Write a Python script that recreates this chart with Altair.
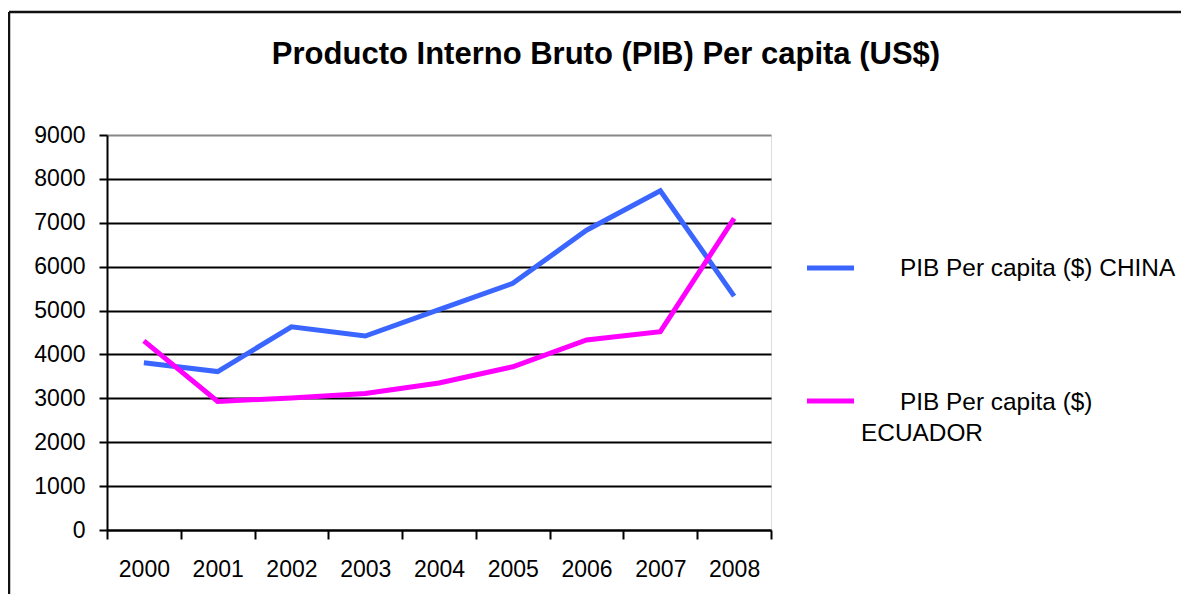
import altair as alt
import pandas as pd

# ---- data ----
years = ["2000", "2001", "2002", "2003", "2004", "2005", "2006", "2007", "2008"]
china = [3810, 3610, 4630, 4420, 5020, 5620, 6830, 7730, 5330]
ecuador = [4310, 2930, 3010, 3110, 3350, 3720, 4330, 4520, 7100]
series_names = ["PIB Per capita ($) CHINA", "PIB Per capita ($) ECUADOR"]
series_colors = ["#3A66FF", "#FF00FF"]
y_ticks = [0, 1000, 2000, 3000, 4000, 5000, 6000, 7000, 8000, 9000]
title_text = ["Producto Interno Bruto (PIB) Per capita (US$)"]
legend_china = ["PIB Per capita ($) CHINA"]
legend_ecuador_1 = ["PIB Per capita ($)"]
legend_ecuador_2 = ["ECUADOR"]

FONT = "Liberation Sans"

rows = []
for yr, c, e in zip(years, china, ecuador):
    rows.append({"year": yr, "serie": series_names[0], "valor": c})
    rows.append({"year": yr, "serie": series_names[1], "valor": e})
df = pd.DataFrame(rows)

x_enc = alt.X(
    "year:N",
    title=None,
    sort=years,
    bandPosition=0.5,
    scale=alt.Scale(type="band", paddingInner=0, paddingOuter=0),
    axis=alt.Axis(
        labelAngle=0, labelFont=FONT, labelFontSize=23, labelColor="black",
        labelPadding=19, tickSize=9, tickBand="extent", tickColor="black",
        tickWidth=2, domainColor="black", domainWidth=2, grid=False,
    ),
)
y_enc = alt.Y(
    "valor:Q",
    title=None,
    scale=alt.Scale(domain=[0, 9000], nice=False),
    axis=alt.Axis(
        values=y_ticks, format="d", labelFont=FONT, labelFontSize=23, labelColor="black",
        labelPadding=14, tickSize=8, tickColor="black", tickWidth=2,
        domainColor="black", domainWidth=2, gridWidth=2,
        gridColor={"condition": {"test": "datum.value === 9000", "value": "#888888"},
                   "value": "black"},
    ),
)

lines = alt.Chart(df).mark_line(strokeWidth=5).encode(
    x=x_enc,
    y=y_enc,
    color=alt.Color("serie:N", scale=alt.Scale(domain=series_names, range=series_colors), legend=None),
)

# chart title
title_mark = alt.Chart(pd.DataFrame({"t": title_text})).mark_text(
    font=FONT, fontSize=31, fontWeight="bold", align="center", baseline="alphabetic", color="black"
).encode(text="t:N", x=alt.value(499), y=alt.value(-71))

# manual legend (Excel style)
leg_china_sym = alt.Chart(pd.DataFrame({"serie": [series_names[0]]})).mark_rule(
    strokeWidth=5, color=series_colors[0]
).encode(x=alt.value(700), x2=alt.value(747), y=alt.value(133))
leg_ecu_sym = alt.Chart(pd.DataFrame({"serie": [series_names[1]]})).mark_rule(
    strokeWidth=5, color=series_colors[1]
).encode(x=alt.value(700), x2=alt.value(747), y=alt.value(266))

leg_t1 = alt.Chart(pd.DataFrame({"t": legend_china})).mark_text(
    font=FONT, fontSize=24.4, align="left", baseline="middle", color="black"
).encode(text="t:N", x=alt.value(793), y=alt.value(134))
leg_t2 = alt.Chart(pd.DataFrame({"t": legend_ecuador_1})).mark_text(
    font=FONT, fontSize=24.4, align="left", baseline="middle", color="black"
).encode(text="t:N", x=alt.value(793), y=alt.value(268))
leg_t3 = alt.Chart(pd.DataFrame({"t": legend_ecuador_2})).mark_text(
    font=FONT, fontSize=24.4, align="left", baseline="middle", color="black"
).encode(text="t:N", x=alt.value(754), y=alt.value(299))

# outer chart border (top and left visible in the reference)
border_top = alt.Chart(pd.DataFrame({"a": [0]})).mark_rule(strokeWidth=2.5, color="#111111").encode(
    x=alt.value(-98), x2=alt.value(1100), y=alt.value(-123)
)
border_left = alt.Chart(pd.DataFrame({"a": [0]})).mark_rule(strokeWidth=2.5, color="#111111").encode(
    x=alt.value(-98), y=alt.value(-123), y2=alt.value(470)
)

chart = alt.layer(
    lines, title_mark, leg_china_sym, leg_ecu_sym, leg_t1, leg_t2, leg_t3, border_top, border_left
).properties(
    width=664,
    height=395,
    autosize=alt.AutoSizeParams(type="none"),
    padding={"left": 99, "top": 127, "right": 410, "bottom": 64},
).configure_view(
    stroke="#888888", strokeWidth=2
).configure(background="white")

chart.save("out.html", embed_options={"renderer": "svg", "actions": False})
